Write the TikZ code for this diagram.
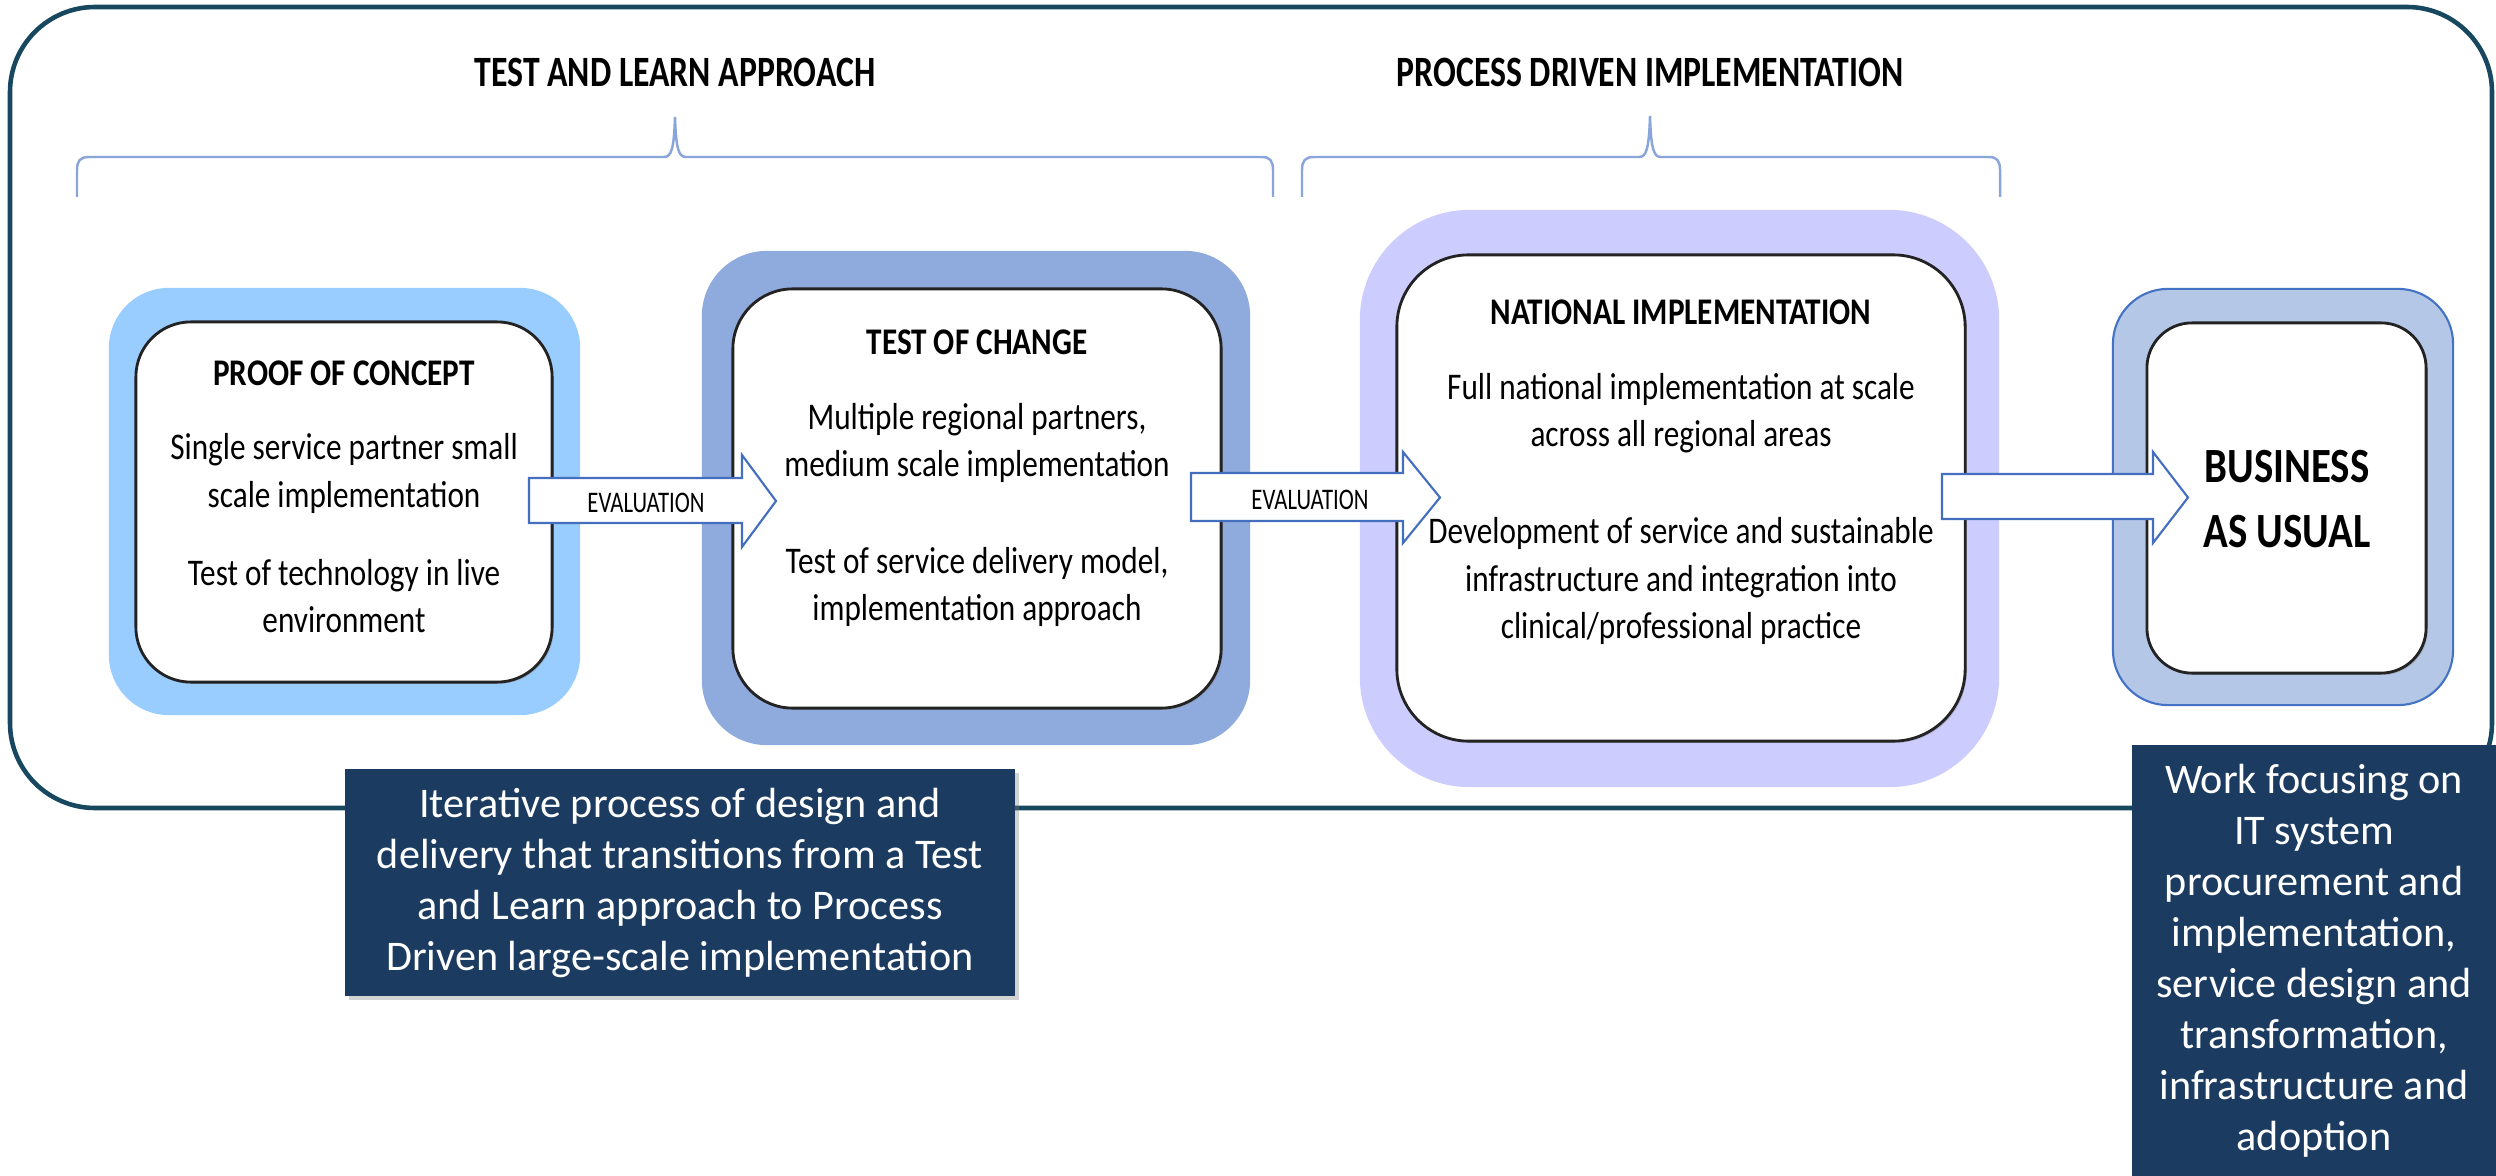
\documentclass[tikz,border=0pt]{standalone}
\usepackage{fontspec}
\setmainfont{Carlito}
\newfontfamily\bodyfont{Carlito}[FakeStretch=0.83]
\newfontfamily\headfont{Carlito}[FakeStretch=0.78]
\newfontfamily\evalfont{Carlito}[FakeStretch=0.76]
\usetikzlibrary{shadows}

\definecolor{framecol}{RGB}{23,72,96}
\definecolor{bracecol}{RGB}{137,165,218}
\definecolor{bandone}{RGB}{153,204,255}
\definecolor{bandtwo}{RGB}{143,170,220}
\definecolor{bandthree}{RGB}{204,204,255}
\definecolor{bandfour}{RGB}{180,199,231}
\definecolor{bandfourline}{RGB}{68,114,196}
\definecolor{arrowline}{RGB}{68,110,190}
\definecolor{panelline}{RGB}{35,35,35}
\definecolor{navy}{RGB}{27,59,96}

\tikzset{
  band/.style={rectangle, draw=none, inner sep=0pt},
  panel/.style={rectangle, draw=panelline, fill=white, line width=0.8pt, inner sep=0pt,
    drop shadow={shadow xshift=0.5pt, shadow yshift=-0.5pt, opacity=0.35}},
  bodytext/.style={align=center, inner sep=0pt, text=black,
    font=\bodyfont\fontsize{10.7}{13.4}\selectfont},
  titletext/.style={bodytext, font=\bodyfont\bfseries\fontsize{10.7}{13.4}\selectfont},
  headtext/.style={inner sep=0pt, font=\headfont\bfseries\fontsize{12.3}{14}\selectfont},
  evaltext/.style={inner sep=0pt, font=\evalfont\fontsize{8.5}{10}\selectfont},
  bracket/.style={draw=bracecol, line width=0.7pt},
  blockarrow/.style={draw=arrowline, fill=white, line width=0.6pt, line join=miter},
  notebox/.style={rectangle, fill=navy, inner sep=0pt, align=center, text=white,
    font=\fontsize{12}{14.5}\selectfont},
}

% block arrow: #1 tail x, #2 head base x, #3 tip x, #4/#5 shaft top/bottom, #6/#7 head top/bottom
\newcommand{\blockarrowpath}[7]{%
  \draw[blockarrow] (#1,#4) -- (#2,#4) -- (#2,#6) -- (#3,{(#6+#7)/2}) -- (#2,#7)
    -- (#2,#5) -- (#1,#5) -- cycle;}

\begin{document}
\begin{tikzpicture}[x=0.01cm, y=-0.01cm]
\useasboundingbox (0,0) rectangle (2496,1176);

% outer frame
\draw[framecol, line width=1.3pt, rounded corners=0.85cm] (10,7) rectangle (2492,808);

% headings
\node[headtext] (hTL) at (675,72) {TEST AND LEARN APPROACH};
\node[headtext] (hPD) at (1650,72) {PROCESS DRIVEN IMPLEMENTATION};

% braces under the headings
\draw[bracket] (77,197) -- (77,170) .. controls (77,161) and (80,157) .. (89,157)
  -- (664,157) .. controls (671,157) and (674,150) .. (675,117)
  .. controls (676,150) and (679,157) .. (686,157) -- (1262,157)
  .. controls (1270,157) and (1273,161) .. (1273,170) -- (1273,197);
\draw[bracket] (1302,197) -- (1302,170) .. controls (1302,161) and (1305,157) .. (1314,157)
  -- (1639,157) .. controls (1646,157) and (1649,150) .. (1650,116)
  .. controls (1651,150) and (1654,157) .. (1661,157) -- (1989,157)
  .. controls (1997,157) and (2000,161) .. (2000,170) -- (2000,197);

% coloured bands
\node[band, fill=bandone, rounded corners=0.6cm, minimum width=4.71cm, minimum height=4.27cm] (b1) at (344.5,501.5) {};
\node[band, fill=bandtwo, rounded corners=0.65cm, minimum width=5.48cm, minimum height=4.94cm] (b2) at (976,498) {};
\node[band, fill=bandthree, rounded corners=1.1cm, minimum width=6.39cm, minimum height=5.77cm] (b3) at (1679.5,498.5) {};
\node[band, fill=bandfour, draw=bandfourline, line width=0.6pt, rounded corners=0.55cm, minimum width=3.40cm, minimum height=4.16cm] (b4) at (2283,497) {};

% white panels
\node[panel, rounded corners=0.55cm, minimum width=4.16cm, minimum height=3.60cm] (p1) at (344,502) {};
\node[panel, rounded corners=0.6cm, minimum width=4.88cm, minimum height=4.19cm] (p2) at (977,498.5) {};
\node[panel, rounded corners=0.72cm, minimum width=5.68cm, minimum height=4.86cm] (p3) at (1681,498) {};
\node[panel, rounded corners=0.45cm, minimum width=2.79cm, minimum height=3.50cm] (p4) at (2286.5,498) {};

% panel texts
\node[titletext] (t1) at (344,373) {PROOF OF CONCEPT};
\node[bodytext] (t1a) at (344,473.5) {Single service partner small\\scale implementation};
\node[bodytext] (t1b) at (344,596) {Test of technology in live\\environment};

\node[titletext] (t2) at (977,342) {TEST OF CHANGE};
\node[bodytext] (t2a) at (977,443) {Multiple regional partners,\\medium scale implementation};
\node[bodytext] (t2b) at (977,587) {Test of service delivery model,\\implementation approach};

\node[titletext] (t3) at (1681,312) {NATIONAL IMPLEMENTATION};
\node[bodytext] (t3a) at (1681,413.5) {Full national implementation at scale\\across all regional areas};
\node[bodytext] (t3b) at (1681,581) {Development of service and sustainable\\infrastructure and integration into\\clinical/professional practice};

% block arrows between the stages
\blockarrowpath{529}{742}{776}{478}{523}{455}{547}
\node[evaltext] (ev1) at (646,503) {EVALUATION};
\blockarrowpath{1191}{1403}{1440}{473}{521}{452}{543}
\node[evaltext] (ev2) at (1310,500) {EVALUATION};
\blockarrowpath{1942}{2153}{2188}{474}{519}{452}{543}

\node[bodytext, font=\bodyfont\bfseries\fontsize{14}{18.5}\selectfont] (t4) at (2287,499.5) {BUSINESS\\AS USUAL};

% explanatory notes
\node[notebox, minimum width=6.70cm, minimum height=2.27cm,
  drop shadow={shadow xshift=1.2pt, shadow yshift=-1.2pt, opacity=0.35}] (noteA) at (680,882.5)
  {Iterative process of design and\\delivery that transitions from a Test\\and Learn approach to Process\\Driven large-scale implementation};
\node[notebox, minimum width=3.64cm, minimum height=4.31cm] (noteB) at (2314,960.5)
  {Work focusing on\\IT system\\procurement and\\implementation,\\service design and\\transformation,\\infrastructure and\\adoption};
\end{tikzpicture}
\end{document}
